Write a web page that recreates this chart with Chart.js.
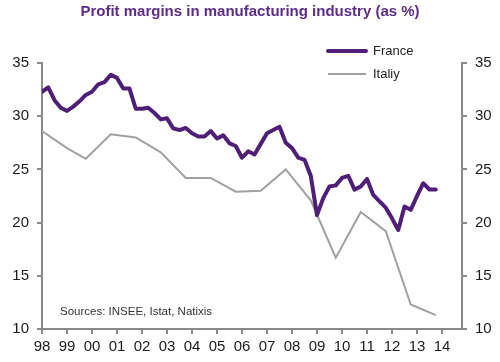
<!DOCTYPE html>
<html>
<head>
<meta charset="utf-8">
<title>Profit margins in manufacturing industry</title>
<script src="https://cdn.jsdelivr.net/npm/chart.js@4/dist/chart.umd.min.js"></script>
<style>
  html, body { margin: 0; padding: 0; background: #fff; }
</style>
</head>
<body>
<canvas id="chart" width="500" height="362"></canvas>
<script>
// Quarterly margins for France, 1998Q1 .. 2013Q4
const franceStart = 1998;
const franceValues = [
  32.3, 32.7, 31.5, 30.8,
  30.5, 30.9, 31.4, 32.0,
  32.3, 33.0, 33.2, 33.9,
  33.6, 32.6, 32.6, 30.7,
  30.7, 30.8, 30.3, 29.7,
  29.8, 28.85, 28.7, 28.9,
  28.4, 28.1, 28.1, 28.6,
  27.9, 28.2, 27.45, 27.2,
  26.1, 26.7, 26.4, 27.4,
  28.4, 28.7, 29.0, 27.5,
  27.0, 26.1, 25.9, 24.4,
  20.7, 22.3, 23.4, 23.5,
  24.2, 24.4, 23.1, 23.4,
  24.1, 22.6, 22.0, 21.4,
  20.4, 19.3, 21.5, 21.2,
  22.5, 23.7, 23.1, 23.1
];

// Italy, roughly yearly observations
const italyYears = [1998, 1999, 1999.75, 2000.75, 2001.75, 2002.75, 2003.75, 2004.75,
  2005.75, 2006.75, 2007.75, 2008.75, 2009.75, 2010.75, 2011.75, 2012.75, 2013.75];
const italyValues = [28.6, 27.0, 26.0, 28.3, 28.0, 26.6, 24.2, 24.2,
  22.9, 23.0, 25.0, 22.1, 16.7, 21.0, 19.2, 12.3, 11.3];

const yTicks = [10, 15, 20, 25, 30, 35];
const sourceText = "Sources: INSEE, Istat, Natixis";

const fontFamily = "'Liberation Sans', Arial, sans-serif";
const axisColor = "#8a8a8a";

const franceData = franceValues.map((v, i) => ({ x: franceStart + i / 4, y: v }));
const italyData = italyValues.map((v, i) => ({ x: italyYears[i], y: v }));

// legend drawn inside the plot + the source note
const notesPlugin = {
  id: "notes",
  afterDraw(chart) {
    const ctx = chart.ctx;
    ctx.save();
    ctx.textBaseline = "middle";
    chart.data.datasets.forEach((ds, i) => {
      const y = 51 + i * 23;
      ctx.strokeStyle = ds.borderColor;
      ctx.lineWidth = ds.borderWidth;
      ctx.lineCap = i === 0 ? "round" : "butt";
      ctx.beginPath();
      ctx.moveTo(328, y);
      ctx.lineTo(366, y);
      ctx.stroke();
      ctx.fillStyle = "#222";
      ctx.font = "13px " + fontFamily;
      ctx.fillText(ds.label, 373, y);
    });
    ctx.fillStyle = "#333";
    ctx.font = "11.5px " + fontFamily;
    ctx.fillText(sourceText, 60, 312);
    ctx.restore();
  }
};

const yAxisBase = {
  type: "linear",
  min: 10,
  max: 35,
  grid: { display: true, drawOnChartArea: false, drawTicks: true, tickLength: 5, color: axisColor, lineWidth: 2 },
  border: { display: true, color: axisColor, width: 2 },
  afterBuildTicks: (scale) => { scale.ticks = yTicks.map((v) => ({ value: v })); },
  ticks: { color: "#1a1a1a", padding: 8, font: { family: fontFamily, size: 15 } }
};

new Chart(document.getElementById("chart").getContext("2d"), {
  type: "line",
  data: {
    datasets: [
      {
        label: "France",
        data: franceData,
        borderColor: "#4f1f78",
        borderWidth: 4,
        borderJoinStyle: "round",
        borderCapStyle: "round",
        pointRadius: 0,
        tension: 0,
        yAxisID: "y"
      },
      {
        label: "Italiy",
        data: italyData,
        borderColor: "#a0a0a0",
        borderWidth: 2,
        pointRadius: 0,
        tension: 0,
        yAxisID: "y"
      }
    ]
  },
  options: {
    responsive: false,
    animation: false,
    devicePixelRatio: 1,
    layout: { padding: 0 },
    plugins: {
      legend: { display: false },
      tooltip: { enabled: false },
      title: {
        display: true,
        text: "Profit margins in manufacturing industry (as %)",
        color: "#5b2d86",
        font: { family: fontFamily, size: 15, weight: "bold" },
        padding: { top: 3, bottom: 42 }
      }
    },
    scales: {
      x: {
        type: "linear",
        min: 1998,
        max: 2014.8,
        grid: { display: true, drawOnChartArea: false, drawTicks: true, tickLength: 5, color: axisColor, lineWidth: 2 },
        border: { display: true, color: axisColor, width: 2 },
        ticks: {
          stepSize: 1,
          includeBounds: false,
          autoSkip: false,
          maxRotation: 0,
          color: "#1a1a1a",
          padding: 4,
          font: { family: fontFamily, size: 15 },
          callback: (v) => String(v % 100).padStart(2, "0")
        },
        afterFit: (scale) => { scale.height = 33; }
      },
      y: Object.assign({}, yAxisBase, {
        position: "left",
        afterFit: (scale) => { scale.width = 42; }
      }),
      y2: Object.assign({}, yAxisBase, {
        position: "right",
        afterFit: (scale) => { scale.width = 38; }
      })
    }
  },
  plugins: [notesPlugin]
});
</script>
</body>
</html>
